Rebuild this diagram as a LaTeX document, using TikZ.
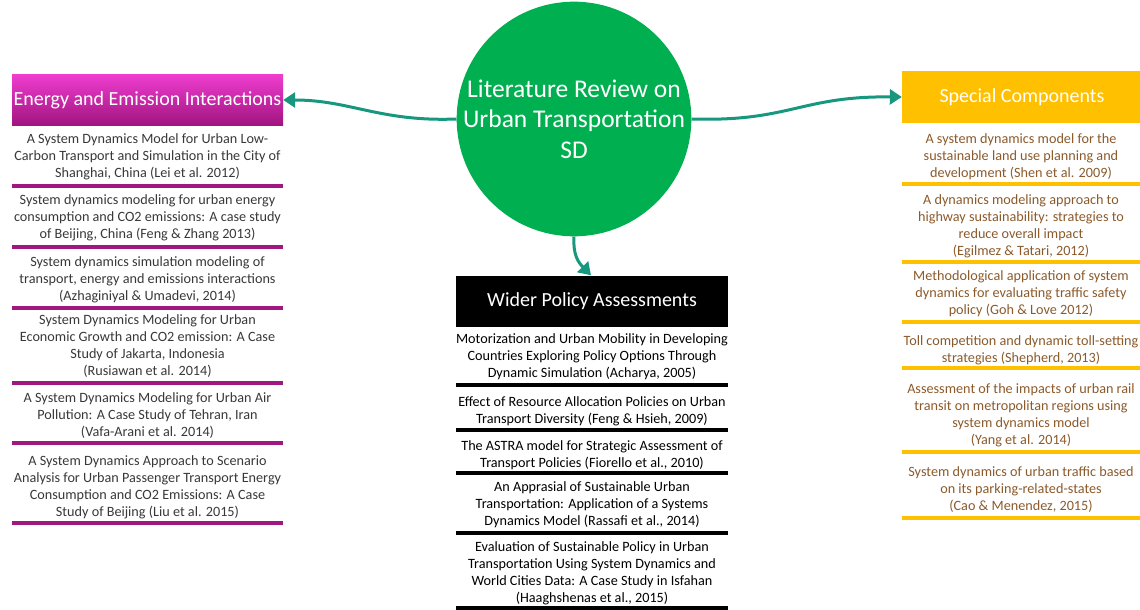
\documentclass[tikz,border=0pt]{standalone}
\usepackage{fontspec}
\setmainfont{Carlito}
\usetikzlibrary{arrows.meta}

\definecolor{hubgreen}{HTML}{00B050}
\definecolor{linkteal}{HTML}{17977D}
\definecolor{energytop}{HTML}{EE3DCF}
\definecolor{energybot}{HTML}{A1147F}
\definecolor{energyline}{HTML}{A0177F}
\definecolor{specgold}{HTML}{FFC000}
\definecolor{spectext}{HTML}{8B5A2B}
\definecolor{plaintext}{HTML}{3A373A}

\begin{document}
\begin{tikzpicture}[
        x=1pt, y=-1pt,
        link/.style={line width=3pt, linkteal, -{Triangle[length=12pt, width=15pt]}},
        head/.style={
            inner sep=0pt, minimum height=51pt, text=white,
            font=\fontsize{20}{22}\selectfont
        },
        item/.style={
            inner sep=0pt, align=center,
            font=\fontsize{14.2}{17}\selectfont
        },
        sep/.style={line width=4pt},
        energyhead/.style={head, minimum width=271pt,
            top color=energytop, bottom color=energybot},
        policyhead/.style={head, minimum width=272pt, fill=black},
        spechead/.style={head, minimum width=240pt, fill=specgold},
        energyitem/.style={item, text=plaintext},
        policyitem/.style={item, text=black},
        specitem/.style={item, text=spectext}
    ]
    \useasboundingbox (0,0) rectangle (1140,610);

    % 1. Nodo central
    \node[circle, fill=hubgreen, minimum size=232pt, inner sep=0pt,
          align=center, text=white, font=\fontsize{25.5}{30.5}\selectfont]
          (hub) at (574,119) {Literature Review on\\Urban Transportation\\SD};

    % 2. Cabeceras de las tres ramas
    \node[energyhead] (ehead) at (147.5,100) {Energy and Emission Interactions};
    \node[policyhead] (phead) at (592,301) {Wider Policy Assessments};
    \node[spechead] (shead) at (1022,97) {Special Components};

    % 3. Flechas desde el nodo central
    \draw[link] (hub.west) .. controls (380,122) and (350,100) .. (ehead.east);
    \draw[link] (hub.east) .. controls (790,122) and (800,96) .. (shead.west);
    \draw[link] (hub.south) .. controls (573,255) and (578,262) .. ([xshift=-1pt]phead.north);

    % 4. Rama izquierda
    \node[energyitem] (e1) at (147.5,157) {A System Dynamics Model for Urban Low-\\Carbon Transport and Simulation in the City of\\Shanghai, China (Lei et al. 2012)};
    \node[energyitem] (e2) at (147.5,218) {System dynamics modeling for urban energy\\consumption and CO2 emissions: A case study\\of Beijing, China (Feng \& Zhang 2013)};
    \node[energyitem] (e3) at (147.5,280) {System dynamics simulation modeling of\\transport, energy and emissions interactions\\(Azhaginiyal \& Umadevi, 2014)};
    \node[energyitem] (e4) at (147.5,346.5) {System Dynamics Modeling for Urban\\Economic Growth and CO2 emission: A Case\\Study of Jakarta, Indonesia\\(Rusiawan et al. 2014)};
    \node[energyitem] (e5) at (147.5,416) {A System Dynamics Modeling for Urban Air\\Pollution: A Case Study of Tehran, Iran\\(Vafa-Arani et al. 2014)};
    \node[energyitem] (e6) at (147.5,487) {A System Dynamics Approach to Scenario\\Analysis for Urban Passenger Transport Energy\\Consumption and CO2 Emissions: A Case\\Study of Beijing (Liu et al. 2015)};

    % Líneas separadoras moradas
    \foreach \n/\y in {e1/186, e2/247, e3/308, e4/383, e5/443, e6/523}
        \draw[sep, energyline] (ehead.west |- 0,\y) -- (ehead.east |- 0,\y);

    % 5. Rama central
    \node[policyitem] (p1) at (592,356.5) {Motorization and Urban Mobility in Developing\\Countries Exploring Policy Options Through\\Dynamic Simulation (Acharya, 2005)};
    \node[policyitem] (p2) at (592,411) {Effect of Resource Allocation Policies on Urban\\Transport Diversity (Feng \& Hsieh, 2009)};
    \node[policyitem] (p3) at (592,455) {The ASTRA model for Strategic Assessment of\\Transport Policies (Fiorello et al., 2010)};
    \node[policyitem] (p4) at (592,505) {An Apprasial of Sustainable Urban\\Transportation: Application of a Systems\\Dynamics Model (Rassafi et al., 2014)};
    \node[policyitem] (p5) at (592,573.5) {Evaluation of Sustainable Policy in Urban\\Transportation Using System Dynamics and\\World Cities Data: A Case Study in Isfahan\\(Haaghshenas et al., 2015)};

    % Líneas separadoras negras
    \foreach \n/\y in {p1/385, p2/430, p3/473, p4/533, p5/608}
        \draw[sep, black] (phead.west |- 0,\y) -- (phead.east |- 0,\y);

    % 6. Rama derecha
    \node[specitem] (s1) at (1021,156.5) {A system dynamics model for the\\sustainable land use planning and\\development (Shen et al. 2009)};
    \node[specitem] (s2) at (1021,226) {A dynamics modeling approach to\\highway sustainability: strategies to\\reduce overall impact\\(Egilmez \& Tatari, 2012)};
    \node[specitem] (s3) at (1021,294) {Methodological application of system\\dynamics for evaluating traffic safety\\policy (Goh \& Love 2012)};
    \node[specitem] (s4) at (1021,350) {Toll competition and dynamic toll-setting\\strategies (Shepherd, 2013)};
    \node[specitem] (s5) at (1021,415.5) {Assessment of the impacts of urban rail\\transit on metropolitan regions using\\system dynamics model\\(Yang et al. 2014)};
    \node[specitem] (s6) at (1021,490) {System dynamics of urban traffic based\\on its parking-related-states\\(Cao \& Menendez, 2015)};

    % Líneas separadoras doradas
    \foreach \n/\y in {s1/184, s2/262, s3/322, s4/368, s5/452, s6/518}
        \draw[sep, specgold] (shead.west |- 0,\y) -- (shead.east |- 0,\y);

\end{tikzpicture}
\end{document}
